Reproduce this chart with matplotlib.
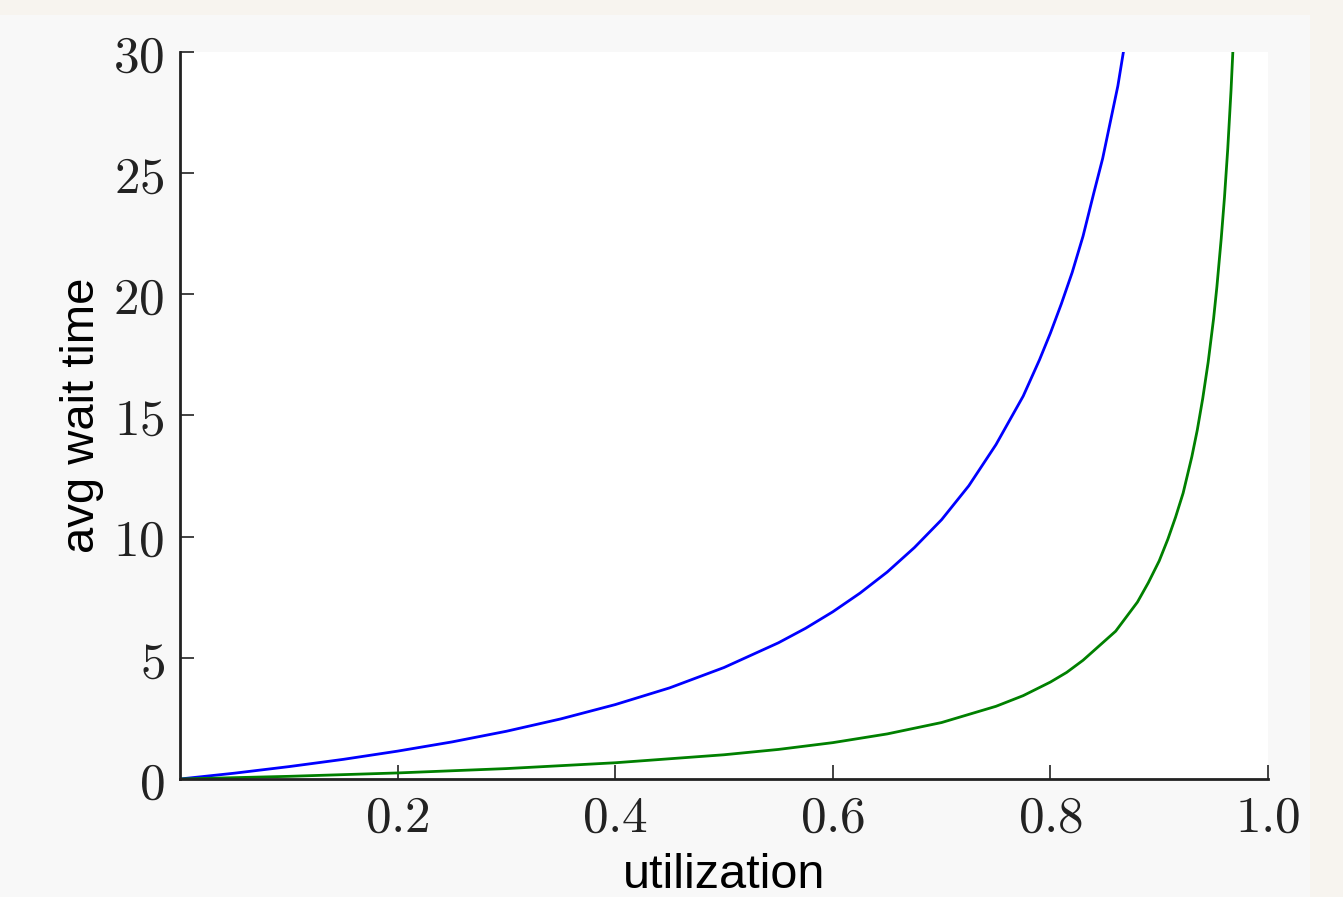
import matplotlib
matplotlib.use("Agg")
import matplotlib.pyplot as plt
from matplotlib.patches import Rectangle

# values
util_blue = [0.0, 0.05, 0.1, 0.15, 0.2, 0.25, 0.3, 0.35, 0.4, 0.45, 0.5, 0.55,
             0.575, 0.6, 0.625, 0.65, 0.675, 0.7, 0.725, 0.75, 0.76, 0.775, 0.79,
             0.8, 0.81, 0.82, 0.83, 0.84, 0.848, 0.855, 0.862, 0.87]
wait_blue = [0.0, 0.24, 0.51, 0.81, 1.15, 1.53, 1.97, 2.48, 3.07, 3.76, 4.6, 5.62,
             6.22, 6.9, 7.67, 8.54, 9.55, 10.7, 12.1, 13.8, 14.6, 15.8, 17.3,
             18.4, 19.6, 20.9, 22.4, 24.2, 25.6, 27.1, 28.6, 30.8]

util_green = [0.0, 0.1, 0.2, 0.3, 0.4, 0.5, 0.55, 0.6, 0.65, 0.7, 0.75, 0.775,
              0.8, 0.815, 0.83, 0.845, 0.86, 0.87, 0.88, 0.89, 0.9, 0.908, 0.915,
              0.922, 0.93, 0.935, 0.94, 0.945, 0.95, 0.953, 0.957, 0.96, 0.963,
              0.966, 0.968]
wait_green = [0.0, 0.11, 0.25, 0.43, 0.67, 1.0, 1.22, 1.5, 1.86, 2.33, 3.0, 3.44,
              4.0, 4.4, 4.9, 5.5, 6.1, 6.7, 7.3, 8.1, 9.0, 9.9, 10.8,
              11.8, 13.3, 14.4, 15.7, 17.2, 19.0, 20.3, 22.3, 24.0, 26.0,
              28.4, 30.3]

xticks = [0.2, 0.4, 0.6, 0.8, 1.0]
yticks = [0, 5, 10, 15, 20, 25, 30]

plt.rcParams['mathtext.fontset'] = 'cm'

W, H = 1343, 897
fig = plt.figure(figsize=(W / 100, H / 100), dpi=100, facecolor='#f7f4ef')
# light grey page behind the plot
page = Rectangle((0, 0), 1310 / W, 1 - 15 / H, transform=fig.transFigure,
                 facecolor='#f8f8f8', edgecolor='none', zorder=-10)
fig.add_artist(page)

ax = fig.add_axes([180 / W, 1 - 779 / H, (1268 - 180) / W, (779 - 52) / H])
ax.set_zorder(5)
ax.set_facecolor('white')

ax.plot(util_blue, wait_blue, color='#0000ff', lw=2.0, solid_joinstyle='round')
ax.plot(util_green, wait_green, color='#008000', lw=2.0, solid_joinstyle='round')

ax.set_xlim(0, 1.0)
ax.set_ylim(0, 30)
ax.set_xticks(xticks)
ax.set_xticklabels(['$%.1f$' % v for v in xticks])
ax.set_yticks(yticks)
ax.set_yticklabels(['$%d$' % v for v in yticks])

for s in ['top', 'right']:
    ax.spines[s].set_visible(False)
for s in ['left', 'bottom']:
    ax.spines[s].set_linewidth(2.0)
    ax.spines[s].set_color('#222222')

ax.tick_params(direction='in', length=10, width=1.2, labelsize=37, colors='#222222')
ax.tick_params(axis='x', pad=10)
ax.tick_params(axis='y', pad=11)

ax.set_xlabel('utilization', fontsize=35, family='Liberation Sans', labelpad=7)
ax.set_ylabel('avg wait time', fontsize=34, family='Liberation Sans', labelpad=7)

fig.savefig('out.png', dpi=100, facecolor=fig.get_facecolor())
